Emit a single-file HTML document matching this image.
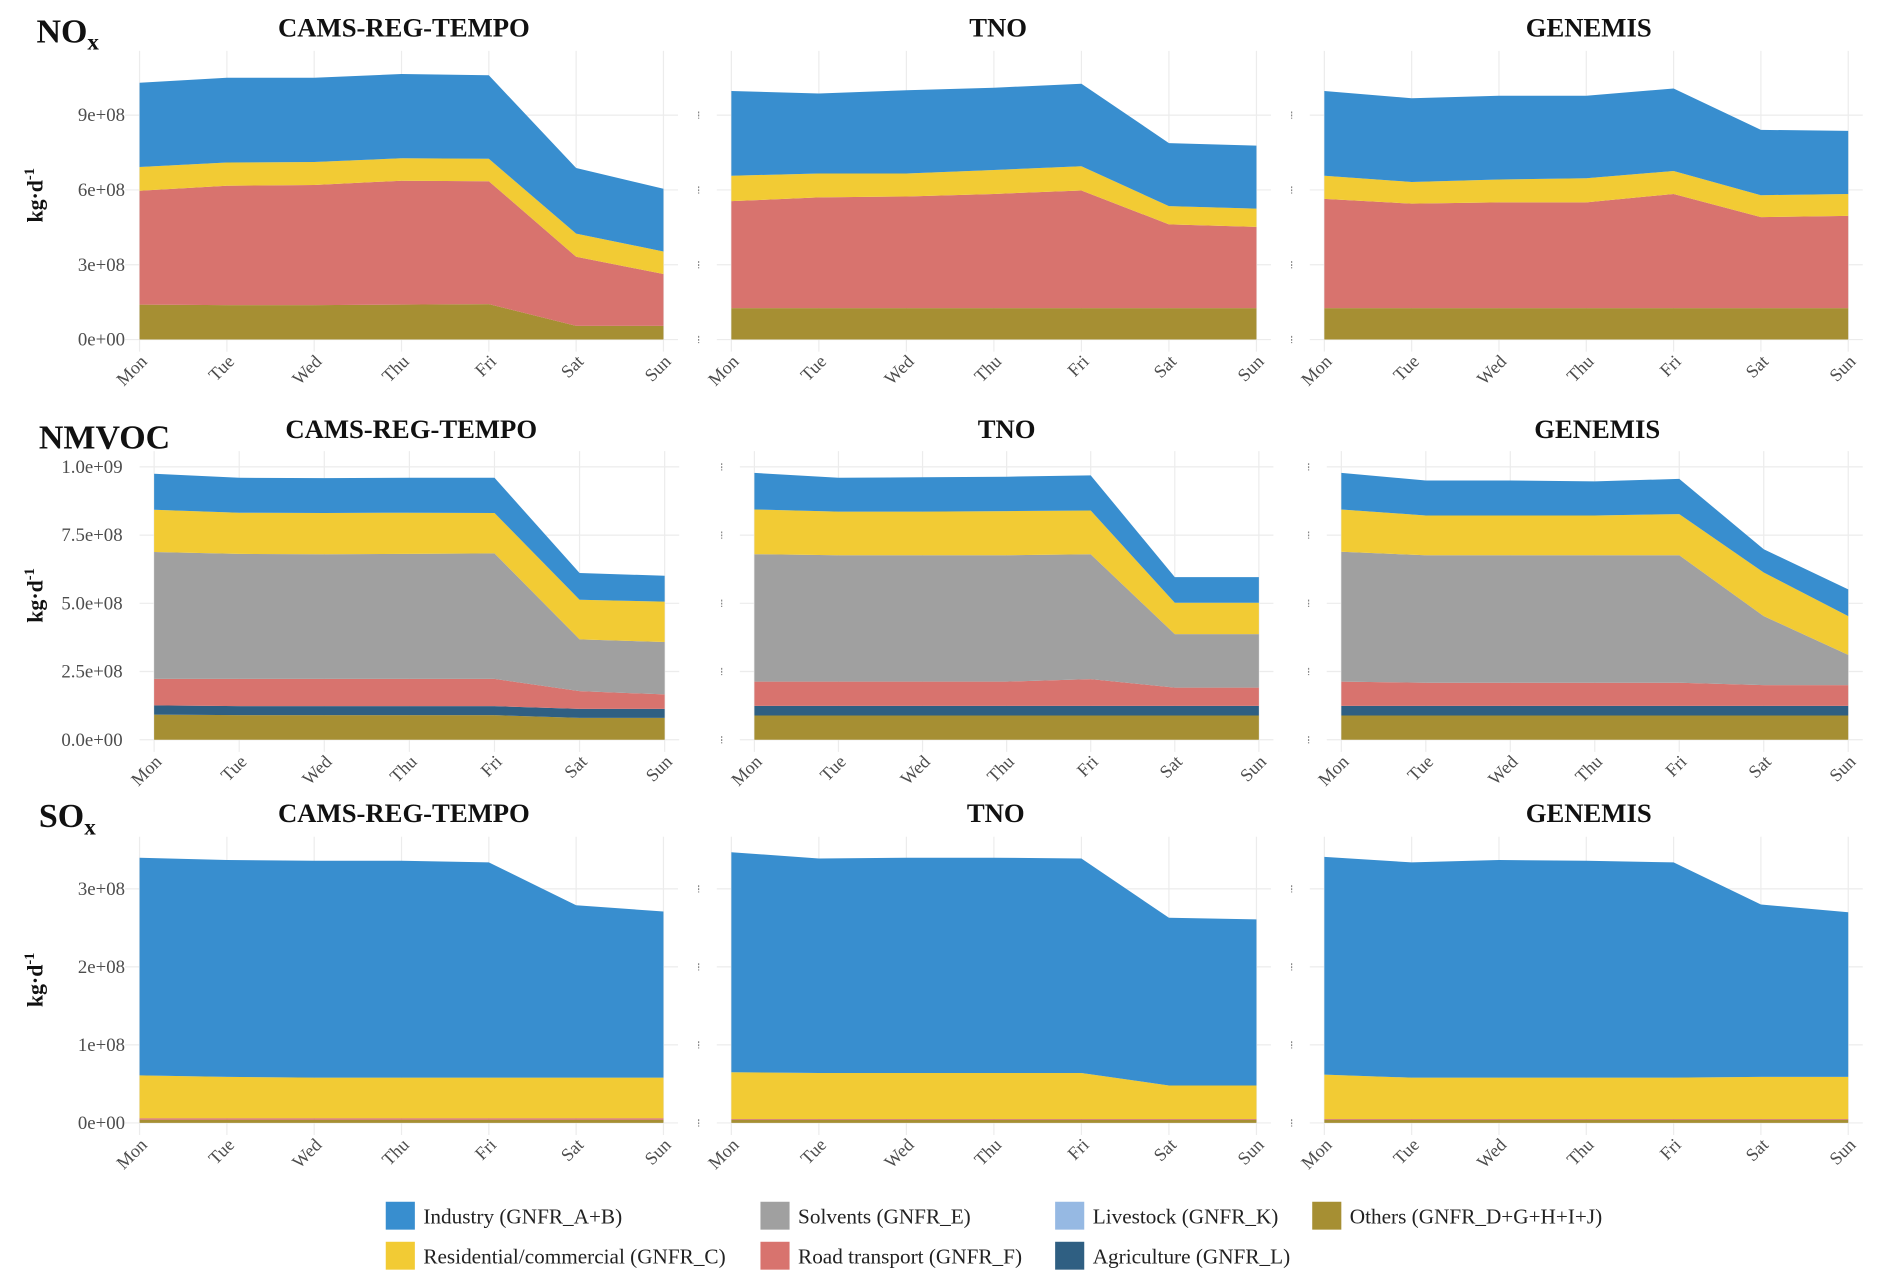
<!DOCTYPE html>
<html><head><meta charset="utf-8">
<style>
html,body{margin:0;padding:0;background:#fff;}
svg{display:block;font-family:"Liberation Serif",serif;}
</style></head>
<body>
<svg id="chart" width="1892" height="1283" viewBox="0 0 1560 1058" xmlns="http://www.w3.org/2000/svg"></svg>
<script>
// ---- data (units: 1e8 kg/d) ----
const days = ["Mon","Tue","Wed","Thu","Fri","Sat","Sun"];
const sectors = ["others","agriculture","livestock","road","solvents","residential","industry"];
const sectorLabels = ["Others (GNFR_D+G+H+I+J)","Agriculture (GNFR_L)","Livestock (GNFR_K)","Road transport (GNFR_F)","Solvents (GNFR_E)","Residential/commercial (GNFR_C)","Industry (GNFR_A+B)"];
const inventories = ["CAMS-REG-TEMPO","TNO","GENEMIS"];
const pollutants = ["NOx","NMVOC","SOx"];

// NOx
const noxCamsOthers = [1.4,1.38,1.38,1.4,1.42,0.55,0.55];
const noxCamsRoad = [4.57,4.79,4.82,4.97,4.93,2.77,2.08];
const noxCamsResid = [0.95,0.93,0.92,0.9,0.9,0.93,0.9];
const noxCamsInd = [3.38,3.4,3.38,3.38,3.35,2.63,2.52];
const noxTnoOthers = [1.26,1.26,1.26,1.26,1.26,1.26,1.26];
const noxTnoRoad = [4.29,4.44,4.48,4.58,4.72,3.36,3.26];
const noxTnoResid = [1.02,0.96,0.92,0.96,0.97,0.73,0.73];
const noxTnoInd = [3.4,3.21,3.34,3.3,3.31,2.53,2.53];
const noxGenOthers = [1.26,1.26,1.26,1.26,1.26,1.26,1.26];
const noxGenRoad = [4.38,4.19,4.24,4.24,4.58,3.65,3.7];
const noxGenResid = [0.93,0.87,0.92,0.97,0.92,0.88,0.88];
const noxGenInd = [3.4,3.36,3.36,3.31,3.31,2.62,2.53];
// NMVOC
const vocCamsOthers = [0.92,0.9,0.9,0.9,0.9,0.8,0.8];
const vocCamsAgri = [0.34,0.33,0.33,0.33,0.33,0.33,0.33];
const vocCamsLive = [0,0,0,0,0,0,0];
const vocCamsRoad = [0.97,1.0,1.0,1.0,1.0,0.65,0.53];
const vocCamsSolv = [4.65,4.58,4.57,4.58,4.6,1.9,1.92];
const vocCamsResid = [1.55,1.51,1.51,1.51,1.48,1.45,1.48];
const vocCamsInd = [1.32,1.28,1.28,1.28,1.29,0.98,0.95];
const vocTnoOthers = [0.89,0.89,0.89,0.89,0.89,0.89,0.89];
const vocTnoAgri = [0.35,0.35,0.35,0.35,0.35,0.35,0.35];
const vocTnoLive = [0,0,0,0,0,0,0];
const vocTnoRoad = [0.89,0.89,0.89,0.89,0.98,0.67,0.67];
const vocTnoSolv = [4.67,4.63,4.63,4.63,4.58,1.96,1.96];
const vocTnoResid = [1.64,1.6,1.6,1.62,1.6,1.15,1.15];
const vocTnoInd = [1.34,1.24,1.26,1.26,1.29,0.94,0.94];
const vocGenOthers = [0.89,0.89,0.89,0.89,0.89,0.89,0.89];
const vocGenAgri = [0.35,0.35,0.35,0.35,0.35,0.35,0.35];
const vocGenLive = [0,0,0,0,0,0,0];
const vocGenRoad = [0.89,0.85,0.85,0.85,0.85,0.76,0.76];
const vocGenSolv = [4.76,4.67,4.67,4.67,4.67,2.53,1.11];
const vocGenResid = [1.55,1.46,1.46,1.46,1.51,1.6,1.42];
const vocGenInd = [1.34,1.28,1.28,1.25,1.29,0.85,0.98];
// SOx
const soxCamsOthers = [0.04,0.04,0.04,0.04,0.04,0.04,0.04];
const soxCamsRoad = [0.02,0.02,0.02,0.02,0.02,0.02,0.02];
const soxCamsResid = [0.55,0.53,0.52,0.52,0.52,0.52,0.52];
const soxCamsInd = [2.79,2.78,2.78,2.78,2.76,2.21,2.13];
const soxTnoOthers = [0.04,0.04,0.04,0.04,0.04,0.04,0.04];
const soxTnoRoad = [0.01,0.01,0.01,0.01,0.01,0.01,0.01];
const soxTnoResid = [0.6,0.59,0.59,0.59,0.59,0.43,0.43];
const soxTnoInd = [2.82,2.75,2.76,2.76,2.75,2.15,2.13];
const soxGenOthers = [0.04,0.04,0.04,0.04,0.04,0.04,0.04];
const soxGenRoad = [0.01,0.01,0.01,0.01,0.01,0.01,0.01];
const soxGenResid = [0.57,0.53,0.53,0.53,0.53,0.54,0.54];
const soxGenInd = [2.79,2.76,2.79,2.78,2.76,2.21,2.11];

const noxTicks = [0,3,6,9];
const noxTickLabels = ["0e+00","3e+08","6e+08","9e+08"];
const vocTicks = [0,2.5,5,7.5,10];
const vocTickLabels = ["0.0e+00","2.5e+08","5.0e+08","7.5e+08","1.0e+09"];
const soxTicks = [0,1,2,3];
const soxTickLabels = ["0e+00","1e+08","2e+08","3e+08"];

// ---- layout ----
const colors = {others:"#a68f33",agriculture:"#2f5f82",livestock:"#96b9e3",road:"#d8736e",solvents:"#a0a0a0",residential:"#f2cb34",industry:"#388ecf"};
const svg = document.getElementById('chart');
const NS = "http://www.w3.org/2000/svg";
function mk(tag, attrs, parent){const e=document.createElementNS(NS,tag);for(const k in attrs)e.setAttribute(k,attrs[k]);(parent||svg).appendChild(e);return e;}

const rows = [
 {pol:"NOx", label:["NO","x"], lx:30, ly:35, titleY:30, y0:280, per:20.56, yTop:42, ticks:noxTicks, tickLabels:noxTickLabels, tickEnd:103,
  xs:[[115,547],[603,1036],[1092,1524]], titleX:[333,823,1310],
  stacks:[{others:noxCamsOthers,road:noxCamsRoad,residential:noxCamsResid,industry:noxCamsInd},
          {others:noxTnoOthers,road:noxTnoRoad,residential:noxTnoResid,industry:noxTnoInd},
          {others:noxGenOthers,road:noxGenRoad,residential:noxGenResid,industry:noxGenInd}]},
 {pol:"NMVOC", label:["NMVOC",""], lx:32, ly:370, titleY:361, y0:610, per:22.5, yTop:372, ticks:vocTicks, tickLabels:vocTickLabels, tickEnd:101,
  xs:[[127,548],[622,1038],[1106,1524]], titleX:[339,830,1317],
  stacks:[{others:vocCamsOthers,agriculture:vocCamsAgri,livestock:vocCamsLive,road:vocCamsRoad,solvents:vocCamsSolv,residential:vocCamsResid,industry:vocCamsInd},
          {others:vocTnoOthers,agriculture:vocTnoAgri,livestock:vocTnoLive,road:vocTnoRoad,solvents:vocTnoSolv,residential:vocTnoResid,industry:vocTnoInd},
          {others:vocGenOthers,agriculture:vocGenAgri,livestock:vocGenLive,road:vocGenRoad,solvents:vocGenSolv,residential:vocGenResid,industry:vocGenInd}]},
 {pol:"SOx", label:["SO","x"], lx:32, ly:682, titleY:678, y0:926, per:64.33, yTop:690, ticks:soxTicks, tickLabels:soxTickLabels, tickEnd:103,
  xs:[[115,547],[603,1036],[1092,1524]], titleX:[333,821,1310],
  stacks:[{others:soxCamsOthers,road:soxCamsRoad,residential:soxCamsResid,industry:soxCamsInd},
          {others:soxTnoOthers,road:soxTnoRoad,residential:soxTnoResid,industry:soxTnoInd},
          {others:soxGenOthers,road:soxGenRoad,residential:soxGenResid,industry:soxGenInd}]}
];

rows.forEach((r,ri)=>{
  const pl = mk('text',{x:r.lx,y:r.ly,'font-size':28,'font-weight':'bold',fill:'#111'});
  
  
  pl.textContent = r.label[0];
  if(r.label[1]){const s=mk('tspan',{'font-size':19,dy:6},pl);s.textContent=r.label[1];}
  const yScale = v => r.y0 - v*r.per;
  r.xs.forEach((xr,ci)=>{
    const g = mk('g',{});
    
    
    const xScale = i => xr[0] + i*(xr[1]-xr[0])/(days.length-1);
    const t = mk('text',{x:r.titleX[ci],y:r.titleY,'text-anchor':'middle','font-size':22,'font-weight':'bold',fill:'#111'},g);
    
    
    t.textContent = inventories[ci];
    r.ticks.forEach((tv,ti)=>{
      const gl = mk('line',{x1:xr[0]-12,x2:xr[1]+12,y1:yScale(tv),y2:yScale(tv),stroke:'#ececec','stroke-width':1},g);
      
      
      if(ci===0){
        const tl = mk('text',{x:r.tickEnd,y:yScale(tv)+5,'text-anchor':'end','font-size':15.5,fill:'#4d4d4d'},g);
        
        
        tl.textContent = r.tickLabels[ti];
      } else {
        const tm = mk('line',{x1:xr[0]-27,x2:xr[0]-27,y1:yScale(tv)-3,y2:yScale(tv)+3,stroke:'#888','stroke-width':1,'stroke-dasharray':'1.5,1'},g);
        
        
      }
    });
    days.forEach((d,i)=>{
      const vl = mk('line',{x1:xScale(i),x2:xScale(i),y1:r.yTop,y2:r.y0+10,stroke:'#ececec','stroke-width':1},g);
      
      
      const tx = mk('text',{x:0,y:0,'text-anchor':'end','font-size':15,fill:'#4d4d4d',transform:`translate(${xScale(i)+7},${r.y0+19}) rotate(-45)`},g);
      
      
      tx.textContent = d;
    });
    const st = r.stacks[ci];
    const base = days.map(()=>0);
    sectors.forEach(s=>{
      if(!st[s]) return;
      const vals = st[s];
      const top = base.map((b,i)=>b+vals[i]);
      let dpath = '';
      top.forEach((v,i)=>{dpath += (i?'L':'M')+xScale(i).toFixed(2)+','+yScale(v).toFixed(2);});
      for(let i=days.length-1;i>=0;i--) dpath += 'L'+xScale(i).toFixed(2)+','+yScale(base[i]).toFixed(2);
      dpath += 'Z';
      const a = mk('path',{d:dpath,fill:colors[s]},g);
      
      
      top.forEach((v,i)=>base[i]=v);
    });
  });
  const cy = (r.y0 + r.yTop)/2;
  const yt = mk('text',{x:0,y:0,'text-anchor':'middle','font-size':18,'font-weight':'bold',fill:'#111',transform:`translate(35,${cy}) rotate(-90)`});
  
  
  yt.textContent = 'kg·d';
  const sup = mk('tspan',{'font-size':12,dy:-7},yt); sup.textContent='-1';
});

const legendItems = [
 {s:"industry",x:318,y:991,label:sectorLabels[6]},
 {s:"solvents",x:627,y:991,label:sectorLabels[4]},
 {s:"livestock",x:870,y:991,label:sectorLabels[2]},
 {s:"others",x:1082,y:991,label:sectorLabels[0]},
 {s:"residential",x:318,y:1024,label:sectorLabels[5]},
 {s:"road",x:627,y:1024,label:sectorLabels[3]},
 {s:"agriculture",x:870,y:1024,label:sectorLabels[1]}
];
const lg = mk('g',{});


legendItems.forEach(it=>{
  const eg = mk('g',{},lg);
  
  
  mk('rect',{x:it.x,y:it.y,width:24,height:23,fill:colors[it.s]},eg);
  const tt = mk('text',{x:it.x+31,y:it.y+18,'font-size':17.5,fill:'#222'},eg);
  tt.textContent = it.label;
});
</script>
</body></html>
